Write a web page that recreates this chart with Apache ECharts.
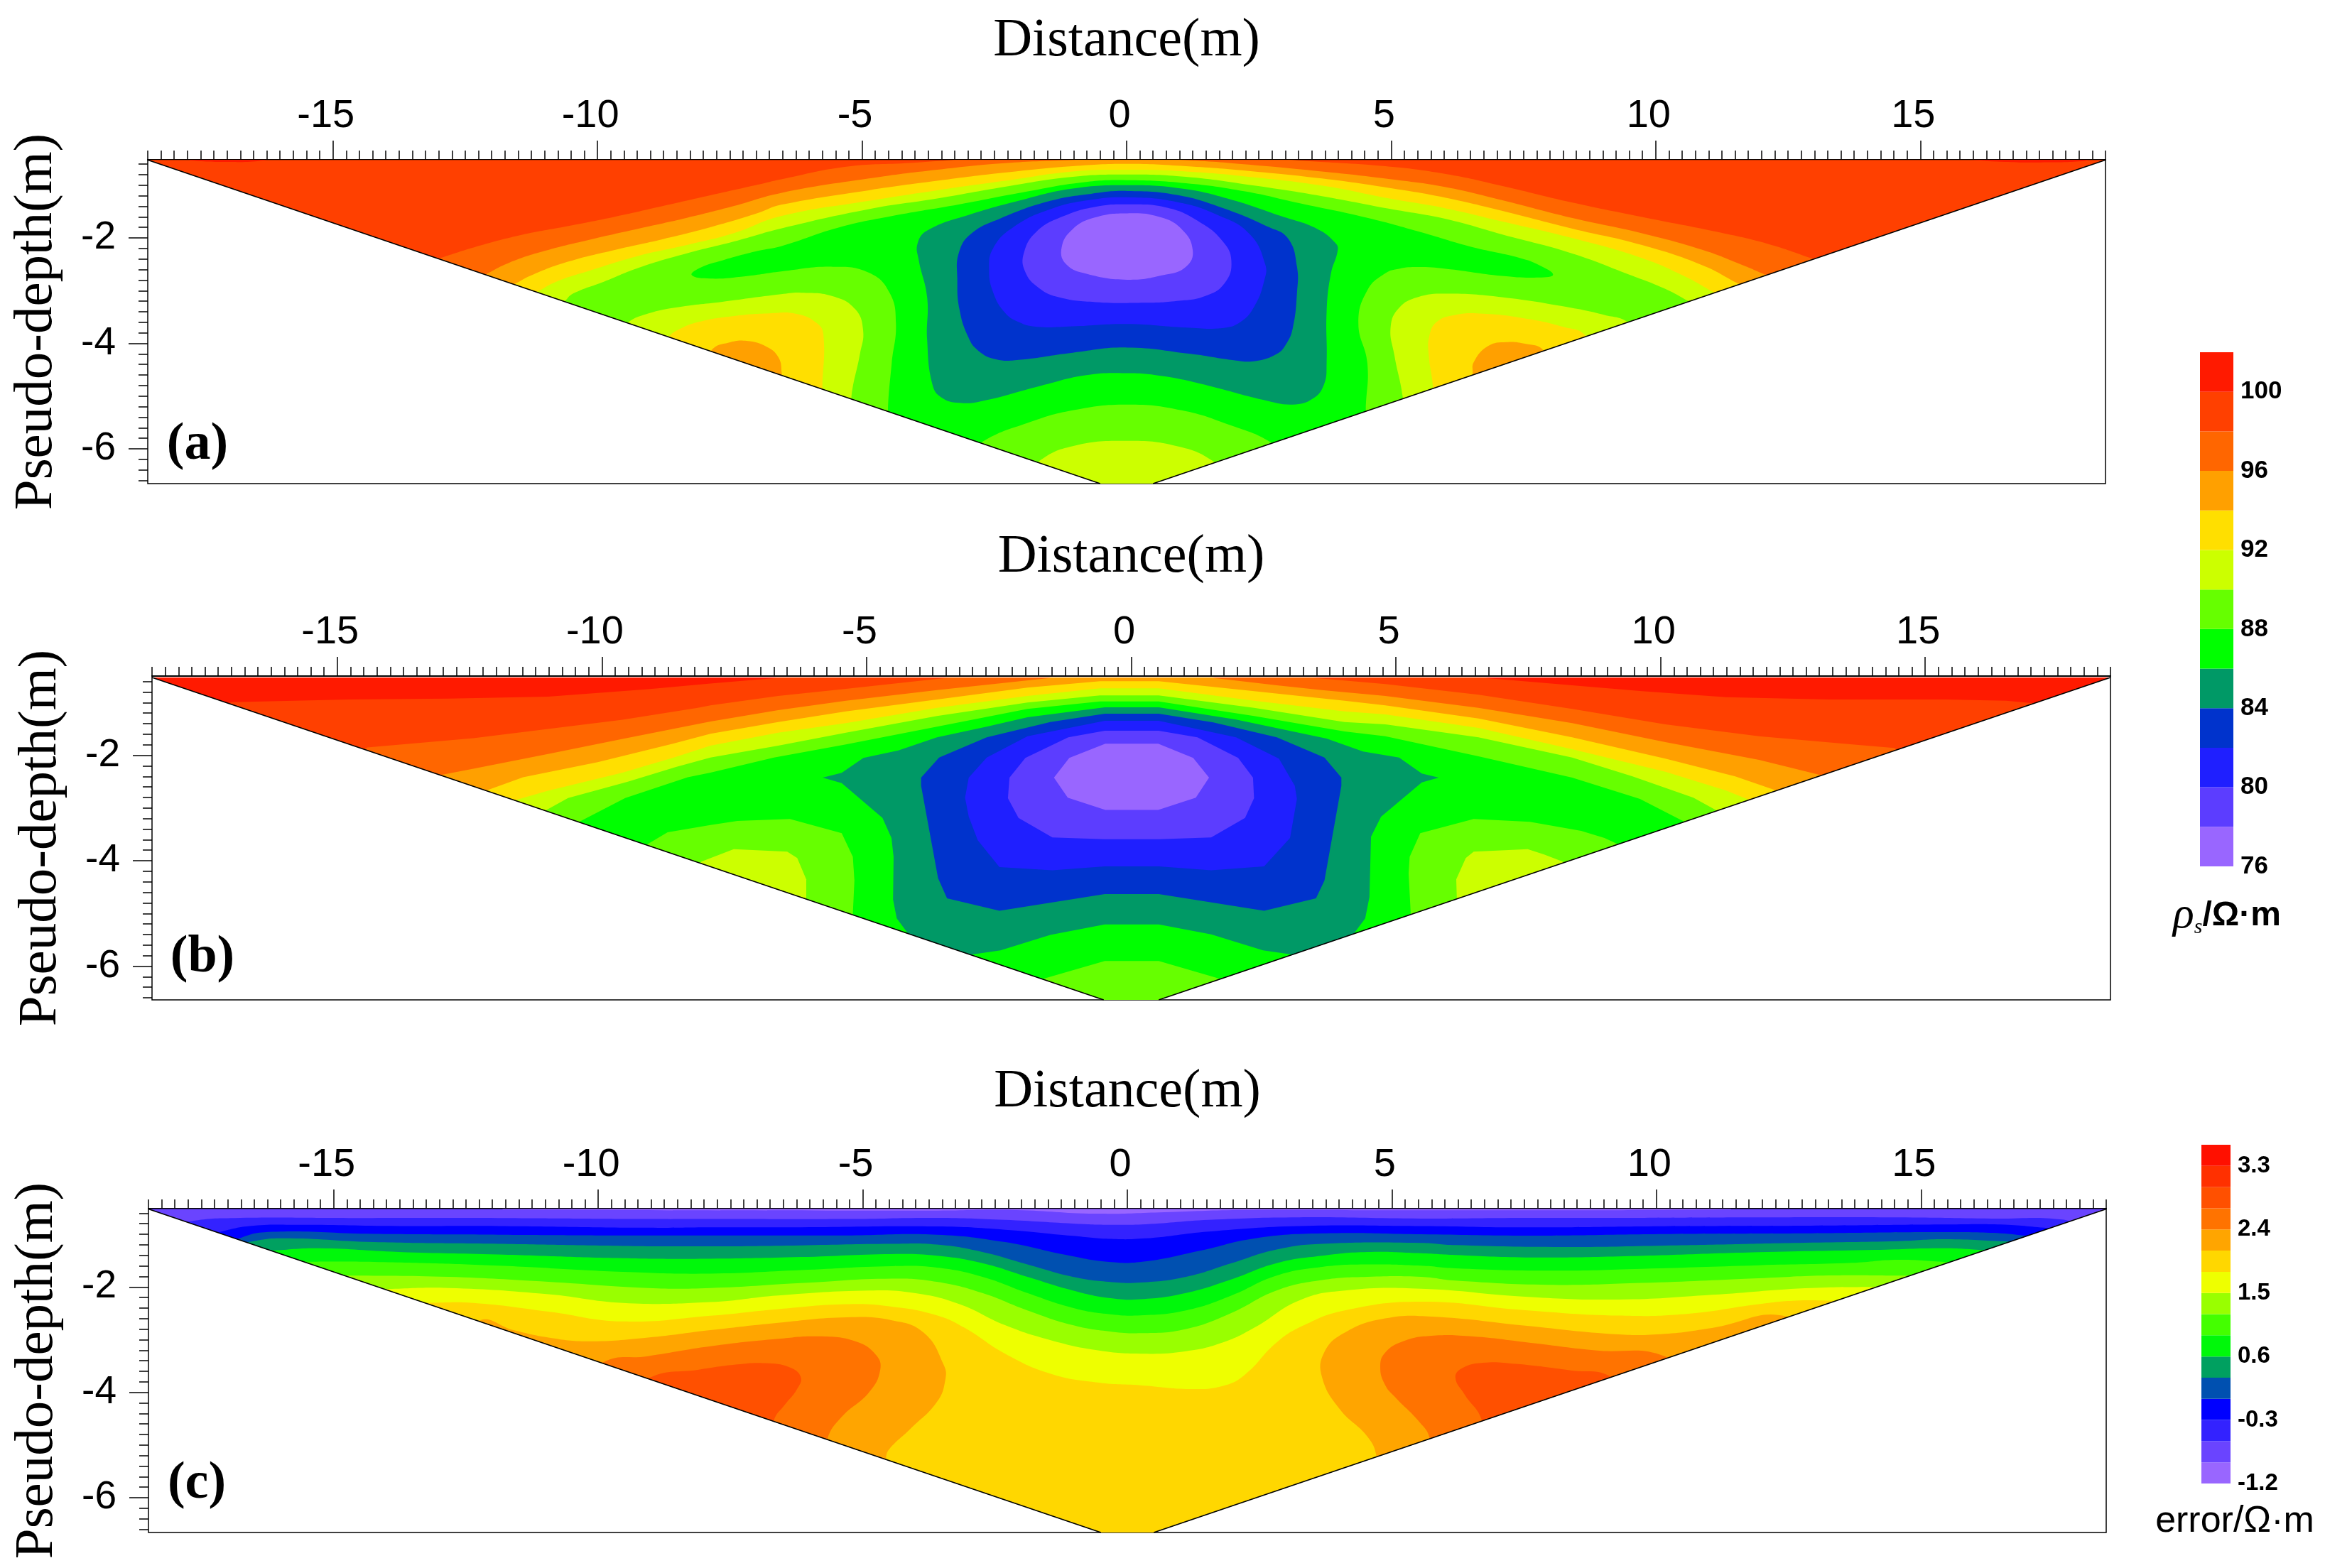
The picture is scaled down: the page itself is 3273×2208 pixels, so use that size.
<!DOCTYPE html>
<html><head><meta charset="utf-8">
<style>html,body{margin:0;padding:0;background:#fff}#c{width:3273px;height:2208px}</style>
<script src="https://cdn.jsdelivr.net/npm/echarts@6/dist/echarts.min.js"></script>
</head><body><div id="c"></div>
<script>
// ---- axis values ----
const majorX = [-15,-10,-5,0,5,10,15];
const minorX = []; for (let k=-74;k<=74;k++) minorX.push(k*0.25);
const majorY = [-2,-4,-6];
const minorY = []; for (let k=3;k<=33;k++) minorY.push(-k*0.2);
// ---- legends ----
const rhoLevels = [76,78,80,82,84,86,88,90,92,94,96,98,100,102];
const rhoColors = ['#9966ff','#5c3dff','#1f1fff','#0033cc','#009966','#00ff00','#66ff00','#ccff00','#ffdf00','#ffa000','#ff6600','#ff4000','#ff1a00'];
const rhoTicks = [76,80,84,88,92,96,100];
const errLevels = [-1.2,-0.9,-0.6,-0.3,0,0.3,0.6,0.9,1.2,1.5,1.8,2.1,2.4,2.7,3.0,3.3,3.6];
const errColors = ['#9966ff','#6a44ff','#3322ff','#0000ff','#0050b0','#00a060','#00f80a','#44ff00','#99ff00','#eeff00','#ffd700','#ffa500','#ff7300','#ff5000','#ff3000','#ff1000'];
const errTicks = [-1.2,-0.3,0.6,1.5,2.4,3.3];
// ---- data outline (pseudo-section wedge) ----
const wedgeA = [[-18.5,-0.52],[18.5,-0.52],[0.5,-6.66],[-0.5,-6.66]];
const wedgeB = [[-18.5,-0.525],[18.5,-0.525],[0.52,-6.64],[-0.52,-6.64]];
const wedgeC = [[-18.5,-0.52],[18.5,-0.52],[0.5,-6.66],[-0.5,-6.66]];

// ---- panel (a) iso-lines, x in m, pseudo-depth in m ----
const a100L = [[-17.7,-0.5],[-17.7,-0.53],[-16.9,-0.56],[-16.4,-0.54],[-16.2,-0.5]];
const a100R = [[15.9,-0.5],[16.6,-0.56],[17.4,-0.565],[18.1,-0.54],[18.2,-0.5]];
const a98 = [[-12.97,-2.381],[-12.34,-2.18],[-11.45,-1.946],[-10.55,-1.775],[-9.66,-1.596],[-8.76,-1.394],[-7.87,-1.192],[-6.97,-0.99],[-6.53,-0.887],[-5.3,-0.649],[-4.18,-0.582],[-3.33,-0.524],[-2.4,-0.46],[0,-0.42],[2.4,-0.46],[3.26,-0.53],[4.89,-0.64],[6.03,-0.788],[7.09,-1.013],[8.41,-1.327],[9.82,-1.619],[11.06,-1.866],[12.12,-2.113],[12.96,-2.391]];
const a96 = [[-12.12,-2.696],[-11.67,-2.471],[-11,-2.247],[-10.1,-2.022],[-9.21,-1.82],[-8.31,-1.618],[-7.42,-1.394],[-6.53,-1.147],[-4.87,-0.873],[-3.58,-0.707],[-2.3,-0.582],[-1.1,-0.524],[0,-0.493],[1.12,-0.524],[2.41,-0.618],[3.69,-0.739],[4.95,-0.88],[6.03,-1.035],[7.09,-1.282],[8.41,-1.619],[9.74,-1.911],[10.88,-2.225],[11.59,-2.494],[12.07,-2.696]];
const a94 = [[-11.57,-2.875],[-11.22,-2.696],[-10.55,-2.449],[-9.66,-2.224],[-8.76,-2.022],[-7.87,-1.798],[-6.97,-1.529],[-6.53,-1.371],[-4.87,-1.096],[-3.58,-0.917],[-2.3,-0.761],[-1.02,-0.64],[0,-0.596],[1.12,-0.64],[2.41,-0.739],[3.69,-0.873],[4.95,-1.05],[6.03,-1.237],[7.09,-1.484],[8.41,-1.821],[9.74,-2.135],[10.88,-2.517],[11.55,-2.863]];
const a92 = [[-11.12,-3.01],[-10.78,-2.83],[-10.1,-2.606],[-9.21,-2.336],[-8.31,-2.135],[-7.42,-1.91],[-6.53,-1.587],[-4.87,-1.297],[-3.58,-1.096],[-2.3,-0.917],[-1.02,-0.739],[0,-0.707],[1.12,-0.739],[2.41,-0.85],[3.69,-1.007],[4.95,-1.25],[6.03,-1.439],[7.09,-1.686],[8.41,-2.0],[9.74,-2.382],[10.53,-2.719],[11.1,-3.033]];
const a90 = [[-10.62,-3.203],[-10.46,-3.055],[-9.88,-2.83],[-9.21,-2.561],[-8.31,-2.292],[-7.42,-2.067],[-6.53,-1.82],[-4.87,-1.453],[-3.58,-1.252],[-2.3,-1.029],[-1.02,-0.841],[0,-0.797],[1.12,-0.841],[2.41,-1.007],[3.69,-1.208],[4.95,-1.445],[6.03,-1.641],[7.09,-1.933],[8.41,-2.292],[9.5,-2.696],[10.18,-2.966],[10.62,-3.2]];
const a88 = [[-8.22,-2.705],[-8.05,-2.561],[-7.64,-2.426],[-6.97,-2.247],[-6.53,-2.157],[-5.47,-1.81],[-4.44,-1.587],[-3.16,-1.364],[-1.87,-1.118],[-0.85,-0.949],[0,-0.904],[1.12,-0.962],[2.24,-1.118],[3.26,-1.341],[4.55,-1.62],[5.59,-1.9],[6.47,-2.158],[7.44,-2.382],[7.8,-2.517],[8.06,-2.696],[7.8,-2.75],[7.09,-2.719],[6.03,-2.584],[5.5,-2.553],[5.15,-2.584],[4.89,-2.67],[4.55,-2.994],[4.38,-3.62],[4.55,-4.378],[4.52,-5.249],[4.5,-6.2],[4.5,-9],[-4.5,-9],[-4.5,-6.2],[-4.51,-5.27],[-4.44,-4.378],[-4.36,-3.62],[-4.48,-3.039],[-4.87,-2.659],[-5.55,-2.547],[-6.53,-2.637],[-7.2,-2.727],[-7.87,-2.772]];
const a86 = [[0.01,-1],[1.04,-1.065],[1.98,-1.275],[2.92,-1.587],[3.61,-1.833],[3.95,-2.1],[3.99,-2.235],[3.86,-2.681],[3.78,-3.396],[3.78,-4.378],[3.73,-4.78],[3.52,-5.048],[3.14,-5.16],[2.58,-5.07],[1.55,-4.803],[0.7,-4.624],[0.01,-4.566],[-0.76,-4.602],[-1.62,-4.803],[-2.73,-5.093],[-3.16,-5.129],[-3.5,-5.026],[-3.67,-4.78],[-3.77,-3.932],[-3.77,-3.128],[-3.93,-2.413],[-3.95,-2.1],[-3.76,-1.855],[-2.99,-1.565],[-1.96,-1.275],[-1.02,-1.065]];
const a84 = [[0.01,-1.109],[0.95,-1.185],[1.81,-1.431],[2.67,-1.788],[3.05,-2.011],[3.22,-2.547],[3.22,-3.039],[3.14,-3.709],[3.01,-4.021],[2.84,-4.2],[2.45,-4.334],[2.07,-4.325],[1.21,-4.2],[0.01,-4.079],[-1.02,-4.177],[-2.04,-4.312],[-2.47,-4.303],[-2.81,-4.133],[-2.99,-3.887],[-3.16,-3.351],[-3.2,-2.771],[-3.17,-2.279],[-2.94,-1.922],[-2.39,-1.632],[-1.44,-1.297],[-0.67,-1.163]];
const a82 = [[0.01,-1.23],[0.95,-1.319],[1.72,-1.565],[2.32,-1.922],[2.62,-2.503],[2.6,-2.815],[2.41,-3.307],[2.15,-3.597],[1.81,-3.709],[1.12,-3.7],[0.01,-3.633],[-1.02,-3.677],[-1.7,-3.686],[-2.04,-3.597],[-2.3,-3.418],[-2.52,-3.039],[-2.6,-2.592],[-2.52,-2.19],[-2.13,-1.788],[-1.44,-1.453],[-0.67,-1.275]];
const a80 = [[0.01,-1.364],[0.78,-1.431],[1.38,-1.699],[1.81,-2.056],[1.98,-2.436],[1.85,-2.86],[1.47,-3.106],[0.95,-3.195],[0.35,-3.23],[-0.59,-3.217],[-1.27,-3.128],[-1.66,-2.949],[-1.92,-2.637],[-1.94,-2.28],[-1.7,-1.878],[-1.19,-1.587],[-0.59,-1.409]];
const a78 = [[0.01,-1.534],[0.61,-1.6],[1.04,-1.833],[1.25,-2.235],[1.12,-2.547],[0.7,-2.704],[0.01,-2.793],[-0.76,-2.681],[-1.14,-2.503],[-1.23,-2.19],[-1.02,-1.833],[-0.59,-1.61]];
const aApex90 = [[-3.2,-6.3],[-2.73,-5.87],[-1.87,-5.51],[-1.02,-5.27],[0.01,-5.16],[1.04,-5.27],[1.98,-5.56],[2.71,-5.87],[3.2,-6.3]];
const aApex92 = [[-2.2,-6.8],[-1.66,-6.24],[-1.02,-5.95],[0.01,-5.85],[0.95,-5.95],[1.64,-6.24],[2.2,-6.8]];
const aLobeL90 = [[-10.2,-4.2],[-9.43,-3.607],[-9.12,-3.459],[-8.54,-3.324],[-7.64,-3.212],[-6.53,-3.068],[-6.15,-3.039],[-5.55,-3.106],[-5.13,-3.351],[-4.98,-3.753],[-5.04,-4.2],[-5.2,-5.0],[-5.25,-5.8]];
const aLobeL92 = [[-9.2,-4.6],[-8.65,-3.876],[-8.49,-3.751],[-8.09,-3.594],[-7.42,-3.481],[-6.75,-3.43],[-6.24,-3.44],[-5.85,-3.619],[-5.73,-3.843],[-5.75,-4.78],[-5.8,-5.4]];
const aLobeL94 = [[-8.2,-4.7],[-7.84,-4.12],[-7.52,-3.985],[-7.18,-3.954],[-6.8,-4.066],[-6.58,-4.267],[-6.52,-4.557],[-6.5,-5.2]];
const aLobeR90 = [[5.27,-5.8],[5.22,-5.03],[5.06,-4.223],[4.99,-3.684],[5.15,-3.325],[5.5,-3.123],[6.03,-3.056],[7.09,-3.123],[8.41,-3.325],[9.03,-3.46],[9.47,-3.594],[10.2,-4.2]];
const aLobeR92 = [[5.8,-5.4],[5.79,-4.829],[5.71,-4.223],[5.72,-3.864],[5.86,-3.594],[6.21,-3.46],[6.74,-3.437],[7.53,-3.527],[8.24,-3.684],[8.68,-3.864],[9.2,-4.8]];
const aLobeR94 = [[6.5,-5.2],[6.54,-4.573],[6.56,-4.358],[6.83,-4.052],[7.18,-3.976],[7.53,-4.007],[7.87,-4.124],[8.2,-4.7]];

// ---- panel (b) iso-lines ----
const b100 = [[-17.6,-1.2],[-17,-0.993],[-14.78,-0.942],[-12.9,-0.924],[-11.02,-0.886],[-9.13,-0.747],[-7.95,-0.64],[-6.75,-0.537],[-6.2,-0.4],[6.2,-0.4],[6.74,-0.537],[8.33,-0.672],[9.65,-0.784],[11.24,-0.897],[13.18,-0.942],[15.38,-0.942],[16.53,-0.964],[17.01,-1.009],[17.6,-1.2]];
const b98 = [[-15,-2.2],[-14.43,-1.851],[-12.43,-1.675],[-9.61,-1.327],[-8.19,-1.1],[-7.95,-1.054],[-6.67,-0.874],[-5.39,-0.74],[-3.54,-0.537],[-3,-0.45],[3,-0.45],[3.52,-0.537],[4.8,-0.65],[6.56,-0.852],[8.33,-1.121],[10.09,-1.413],[11.86,-1.638],[13.62,-1.795],[14.41,-1.862],[15,-2.2]];
const b96 = [[-12.97,-2.361],[-12.43,-2.255],[-11.02,-1.976],[-9.61,-1.69],[-7.95,-1.359],[-6.67,-1.144],[-5.39,-0.964],[-3.67,-0.762],[-1.57,-0.537],[-1.2,-0.45],[1.2,-0.45],[1.59,-0.537],[2.75,-0.672],[3.6,-0.762],[4.8,-0.874],[6.56,-1.099],[8.33,-1.39],[10.09,-1.75],[11.86,-2.087],[13,-2.37]];
const b94 = [[-12.13,-2.649],[-11.49,-2.417],[-10.08,-2.13],[-8.66,-1.78],[-7.95,-1.593],[-6.67,-1.368],[-5.39,-1.166],[-3.67,-0.942],[-1.96,-0.717],[-0.59,-0.596],[0.52,-0.596],[2.32,-0.784],[4.03,-0.964],[4.8,-1.054],[6.56,-1.301],[8.33,-1.66],[10.09,-2.064],[11.41,-2.401],[12.15,-2.657]];
const b92 = [[-11.58,-2.834],[-11.02,-2.672],[-9.61,-2.33],[-8.6,-2.03],[-7.95,-1.817],[-6.67,-1.57],[-5.39,-1.39],[-3.67,-1.099],[-1.96,-0.874],[-0.59,-0.731],[0.52,-0.731],[2.32,-0.964],[4.03,-1.166],[4.8,-1.224],[6.56,-1.48],[8.33,-1.884],[10.09,-2.311],[11.24,-2.67],[11.63,-2.827]];
const b90 = [[-11.04,-3.034],[-10.64,-2.811],[-9.51,-2.5],[-8.6,-2.22],[-7.95,-2.042],[-6.67,-1.817],[-5.39,-1.57],[-3.67,-1.256],[-1.96,-1],[-0.59,-0.865],[0.52,-0.865],[2.32,-1.099],[4.03,-1.368],[4.8,-1.413],[6.56,-1.66],[8.33,-2.042],[9.47,-2.401],[10.62,-2.805],[11.04,-3.038]];
const b88 = [[-10.41,-3.252],[-9.56,-2.811],[-8.38,-2.417],[-7.95,-2.33],[-6.75,-2.042],[-5.39,-1.795],[-3.67,-1.458],[-1.96,-1.121],[-0.59,-0.977],[0.52,-0.977],[2.32,-1.256],[4.03,-1.548],[4.8,-1.638],[6.56,-2.019],[8.33,-2.423],[9.61,-2.827],[10.44,-3.254]];
const b86 = [[-5.83,-2.423],[-5.47,-2.334],[-5.06,-2.051],[-4.4,-1.907],[-3.67,-1.66],[-2.73,-1.458],[-1.96,-1.278],[-0.5,-1.09],[0.52,-1.09],[1.98,-1.323],[3.69,-1.682],[4.38,-1.929],[5.06,-2.042],[5.49,-2.347],[5.81,-2.423],[5.49,-2.513],[4.72,-3.164],[4.53,-3.546],[4.5,-4.691],[4.42,-5.095],[4.22,-5.364],[4,-6],[3.05,-5.782],[2.49,-5.701],[1.51,-5.396],[0.52,-5.207],[-0.5,-5.207],[-1.53,-5.409],[-2.47,-5.701],[-3,-5.777],[-4,-6],[-4.23,-5.364],[-4.43,-5.095],[-4.5,-4.736],[-4.49,-3.927],[-4.53,-3.568],[-4.7,-3.187],[-5.47,-2.527]];
const b84 = [[-0.5,-1.211],[0.52,-1.211],[1.55,-1.377],[2.75,-1.66],[3.65,-2.042],[3.97,-2.423],[3.97,-2.58],[3.65,-4.377],[3.49,-4.713],[2.51,-4.951],[0.52,-4.632],[-0.5,-4.632],[-2.49,-4.951],[-3.48,-4.713],[-3.65,-4.331],[-3.97,-2.58],[-3.97,-2.423],[-3.63,-2.042],[-2.73,-1.66],[-1.53,-1.368]];
const b82 = [[-0.5,-1.346],[0.52,-1.346],[1.98,-1.66],[2.79,-2.064],[3.09,-2.58],[3.13,-2.827],[3,-3.568],[2.51,-4.107],[1.51,-4.183],[0.52,-4.107],[-0.5,-4.107],[-1.49,-4.183],[-2.49,-4.12],[-2.9,-3.613],[-3.07,-3.164],[-3.14,-2.805],[-3.07,-2.423],[-2.73,-2.042],[-1.96,-1.638]];
const b80 = [[-0.5,-1.534],[0.52,-1.534],[1.25,-1.66],[2.02,-2.05],[2.3,-2.423],[2.32,-2.814],[2.15,-3.187],[1.51,-3.56],[0.52,-3.591],[-0.5,-3.591],[-1.49,-3.56],[-2.13,-3.187],[-2.33,-2.814],[-2.3,-2.423],[-2,-2.05],[-1.19,-1.66]];
const b78 = [[-0.49,-1.781],[0.51,-1.781],[1.17,-2.05],[1.47,-2.423],[1.22,-2.805],[0.51,-3.038],[-0.49,-3.038],[-1.2,-2.805],[-1.46,-2.423],[-1.17,-2.05]];
const bApex90 = [[-2.4,-6.9],[-1.66,-6.24],[-0.5,-5.903],[0.52,-5.903],[1.65,-6.231],[2.4,-6.9]];
const bLobeL90 = [[-9.9,-4.5],[-9.15,-3.692],[-8.76,-3.46],[-7.95,-3.321],[-7.44,-3.245],[-6.45,-3.209],[-5.47,-3.478],[-5.26,-3.927],[-5.23,-4.377],[-5.26,-5.005],[-5.3,-5.7]];
const bLobeL92 = [[-8.6,-4.8],[-8.12,-4.017],[-7.51,-3.779],[-6.5,-3.829],[-6.31,-3.95],[-6.14,-4.354],[-6.14,-4.713],[-6.14,-5.4]];
const bLobeR90 = [[5.3,-5.7],[5.28,-4.996],[5.24,-4.242],[5.26,-3.927],[5.46,-3.478],[6.47,-3.209],[7.53,-3.263],[8.5,-3.434],[8.94,-3.568],[9.18,-3.68],[9.9,-4.5]];
const bLobeR92 = [[6.15,-5.4],[6.15,-4.691],[6.14,-4.354],[6.32,-3.95],[6.47,-3.829],[7.49,-3.779],[7.8,-3.882],[8.15,-4.017],[8.6,-4.8]];

// ---- panel (c) iso-lines ----
const cTop = [[-11.8,-0.5],[-11.8,-0.53],[-3.6,-0.55],[-2.1,-0.54],[-0.6,-0.61],[0.7,-0.58],[2.1,-0.54],[5.6,-0.545],[11.4,-0.53],[11.4,-0.5]];
const c09 = [[-18.2,-0.9],[-17.68,-0.749],[-16.88,-0.692],[-14.71,-0.692],[-11.89,-0.692],[-9.06,-0.711],[-7.88,-0.711],[-5.31,-0.711],[-3.6,-0.688],[-2.31,-0.726],[-1.03,-0.796],[-0.35,-0.82],[0.34,-0.81],[1.54,-0.726],[3.25,-0.678],[5.55,-0.702],[7.52,-0.69],[9.28,-0.69],[11.93,-0.68],[14.57,-0.68],[16.34,-0.703],[17.66,-0.721],[18.1,-0.9]];
const c06 = [[-17.25,-0.975],[-16.59,-0.843],[-15.65,-0.82],[-13.77,-0.843],[-11.89,-0.843],[-9.06,-0.876],[-7.88,-0.867],[-6.17,-0.867],[-3.6,-0.852],[-2.31,-0.914],[-1.03,-1.031],[-0.35,-1.088],[0.34,-1.078],[1.54,-0.947],[3.25,-0.843],[5.55,-0.843],[7.52,-0.869],[10.16,-0.847],[12.81,-0.838],[15.46,-0.815],[16.51,-0.815],[17.4,-0.883]];
const c03 = [[-16.92,-1.116],[-16.31,-0.961],[-14.24,-0.994],[-11.89,-1.008],[-9.53,-1.022],[-7.88,-1.022],[-5.31,-1.022],[-3.6,-1.008],[-2.31,-1.149],[-1.2,-1.385],[-0.35,-1.526],[0.34,-1.516],[1.37,-1.314],[2.4,-1.079],[3.68,-0.984],[5.55,-1],[7.52,-1.026],[10.16,-0.995],[12.81,-0.982],[15.46,-0.959],[16.51,-0.981],[17,-1.03]];
const c00 = [[-16.7,-1.16],[-16.03,-1.078],[-14.24,-1.149],[-11.89,-1.182],[-9.53,-1.22],[-7.88,-1.229],[-6.17,-1.21],[-4.45,-1.182],[-3.6,-1.196],[-2.74,-1.337],[-1.89,-1.573],[-1.03,-1.808],[-0.35,-1.902],[0.25,-1.916],[1.11,-1.808],[1.97,-1.549],[2.82,-1.29],[3.68,-1.182],[5.55,-1.163],[6.2,-1.206],[8.22,-1.242],[10.16,-1.215],[12.81,-1.161],[14.57,-1.13],[15.46,-1.094],[16.69,-1.14]];
const c30 = [[-16.17,-1.31],[-15.28,-1.267],[-13.77,-1.337],[-11.89,-1.384],[-9.53,-1.455],[-7.88,-1.464],[-6.17,-1.432],[-4.45,-1.375],[-3.6,-1.408],[-2.74,-1.549],[-1.89,-1.808],[-1.03,-2.067],[-0.35,-2.208],[0.25,-2.232],[1.11,-2.114],[1.97,-1.855],[2.82,-1.549],[3.68,-1.408],[4.54,-1.337],[5.55,-1.361],[6.2,-1.395],[7.52,-1.439],[9.28,-1.421],[11.93,-1.341],[14.13,-1.296],[15.46,-1.264],[16.21,-1.3]];
const c60 = [[-15.56,-1.52],[-14.24,-1.526],[-11.89,-1.596],[-9.53,-1.714],[-7.88,-1.747],[-6.17,-1.681],[-4.45,-1.606],[-3.6,-1.634],[-2.74,-1.808],[-1.89,-2.114],[-1.03,-2.396],[-0.35,-2.514],[0.25,-2.538],[1.11,-2.444],[1.97,-2.161],[2.82,-1.785],[3.68,-1.62],[4.54,-1.573],[5.55,-1.596],[6.2,-1.646],[7.96,-1.691],[9.72,-1.655],[11.93,-1.588],[13.69,-1.543],[14.57,-1.484],[15.54,-1.53]];
const c90 = [[-14.8,-1.78],[-12.83,-1.808],[-10.94,-1.902],[-9.06,-2.02],[-7.88,-2.02],[-6.17,-1.926],[-4.45,-1.841],[-3.6,-1.902],[-2.74,-2.114],[-1.89,-2.444],[-1.03,-2.726],[-0.35,-2.844],[0.25,-2.877],[1.11,-2.797],[1.97,-2.491],[2.82,-2.067],[3.68,-1.869],[4.54,-1.808],[5.55,-1.808],[6.2,-1.88],[7.96,-1.96],[9.72,-1.924],[11.93,-1.835],[13.25,-1.781],[14.79,-1.785]];
const c120 = [[-14.05,-2.04],[-12.83,-2.02],[-10.94,-2.138],[-9.53,-2.302],[-7.88,-2.288],[-6.6,-2.161],[-4.88,-2.067],[-4.03,-2.114],[-3.17,-2.326],[-2.31,-2.726],[-1.46,-3.008],[-0.6,-3.197],[0.25,-3.267],[1.11,-3.22],[1.8,-3.056],[2.4,-2.773],[3.25,-2.255],[4.11,-2.067],[5.55,-2.034],[7.52,-2.185],[9.28,-2.239],[11.05,-2.149],[12.81,-2.023],[14.18,-1.995]];
const c150 = [[-13.25,-2.3],[-12.36,-2.302],[-10.94,-2.467],[-9.53,-2.655],[-7.88,-2.547],[-6.6,-2.42],[-5.31,-2.326],[-4.45,-2.373],[-3.6,-2.538],[-3.08,-2.773],[-2.31,-3.267],[-1.46,-3.644],[-0.6,-3.809],[0.25,-3.865],[1.2,-3.936],[1.8,-3.879],[2.22,-3.667],[2.82,-3.056],[3.34,-2.726],[4.11,-2.444],[5.55,-2.279],[7.52,-2.441],[9.28,-2.544],[10.6,-2.508],[11.93,-2.328],[12.63,-2.261],[13.38,-2.261]];
const cLobeL18 = [[-13,-3.4],[-12.26,-2.641],[-11.6,-2.82],[-10.94,-2.961],[-10.19,-3.032],[-9.06,-2.961],[-7.88,-2.82],[-6.6,-2.679],[-5.31,-2.575],[-4.45,-2.632],[-3.85,-2.867],[-3.47,-3.479],[-3.44,-3.761],[-3.6,-4.185],[-4.11,-4.703],[-4.5,-5.08],[-4.56,-5.244],[-4.6,-5.9]];
const cLobeL21 = [[-10.6,-4.1],[-9.91,-3.432],[-9.06,-3.314],[-7.88,-3.126],[-6.6,-2.985],[-5.82,-2.938],[-5.14,-3.032],[-4.75,-3.29],[-4.67,-3.573],[-4.88,-3.997],[-5.4,-4.468],[-5.67,-4.891],[-5.75,-5.6]];
const cLobeL24 = [[-9.8,-4.3],[-9.01,-3.714],[-8.12,-3.573],[-7.37,-3.47],[-6.85,-3.446],[-6.38,-3.526],[-6.17,-3.715],[-6.25,-3.95],[-6.47,-4.232],[-6.68,-4.538],[-6.75,-5.2]];
const cLobeR18 = [[4.75,-5.9],[4.71,-5.22],[4.54,-4.844],[4.02,-4.326],[3.68,-3.715],[3.72,-3.244],[4.11,-2.867],[4.87,-2.598],[5.75,-2.562],[7.52,-2.733],[9.28,-2.899],[10.16,-2.89],[11.05,-2.777],[12.46,-2.562],[13.2,-3.3]];
const cLobeR21 = [[5.8,-5.6],[5.71,-4.856],[5.53,-4.573],[5.05,-4.08],[4.87,-3.855],[4.78,-3.526],[4.87,-3.249],[5.23,-3.024],[5.75,-2.926],[6.46,-2.934],[7.52,-3.047],[8.84,-3.204],[10.16,-3.316],[10.9,-4]];
const cLobeR24 = [[6.75,-5.2],[6.7,-4.529],[6.37,-4.035],[6.2,-3.72],[6.33,-3.541],[6.72,-3.438],[7.34,-3.46],[8.4,-3.586],[9.11,-3.689],[9.8,-4.3]];

// ---- building the option ----
const rc = v => rhoColors[rhoLevels.indexOf(v)];
const ec = v => errColors[errLevels.indexOf(v)];
// continue an iso-line past the wedge edge along its end direction, then close it far below the section
const beyond = (a,b) => { const dx=a[0]-b[0], dy=a[1]-b[1], k=2/Math.max(Math.abs(dx),0.01); return [a[0]+dx*k,a[1]+dy*k]; };
const below = line => {
  const s=beyond(line[0],line[1]), e=beyond(line[line.length-1],line[line.length-2]);
  return [s].concat(line,[e,[e[0],-9],[s[0],-9]]);
};
const topBox = [[-19,0],[19,0],[19,-9],[-19,-9]];

const bandsA = [
 [topBox,rc(98)],[a100L,rc(100)],[a100R,rc(100)],
 [below(a98),rc(96)],[below(a96),rc(94)],[below(a94),rc(92)],[below(a92),rc(90)],[below(a90),rc(88)],
 [a88,rc(86)],[below(aApex90),rc(88)],[below(aApex92),rc(90)],
 [aLobeL90,rc(90)],[aLobeL92,rc(92)],[aLobeL94,rc(94)],
 [aLobeR90,rc(90)],[aLobeR92,rc(92)],[aLobeR94,rc(94)],
 [a86,rc(84)],[a84,rc(82)],[a82,rc(80)],[a80,rc(78)],[a78,rc(76)]
];
const bandsB = [
 [topBox,rc(100)],[below(b100),rc(98)],[below(b98),rc(96)],[below(b96),rc(94)],[below(b94),rc(92)],
 [below(b92),rc(90)],[below(b90),rc(88)],[below(b88),rc(86)],
 [below(bApex90),rc(88)],
 [bLobeL90,rc(88)],[bLobeL92,rc(90)],[bLobeR90,rc(88)],[bLobeR92,rc(90)],
 [b86,rc(84)],[b84,rc(82)],[b82,rc(80)],[b80,rc(78)],[b78,rc(76)]
];
const bandsC = [
 [topBox,ec(-0.9)],[below(c09),ec(-0.6)],[below(c06),ec(-0.3)],[below(c03),ec(0)],[below(c00),ec(0.3)],
 [below(c30),ec(0.6)],[below(c60),ec(0.9)],[below(c90),ec(1.2)],[below(c120),ec(1.5)],[below(c150),ec(1.8)],
 [cTop,ec(-1.2)],
 [cLobeL18,ec(2.1)],[cLobeL21,ec(2.4)],[cLobeL24,ec(2.7)],
 [cLobeR18,ec(2.1)],[cLobeR21,ec(2.4)],[cLobeR24,ec(2.7)]
];

const panels = [
 {grid:[208,225,2756,456],yMax:-0.518,yMin:-6.66,bands:bandsA,wedge:wedgeA,smooth:0.45,nameGap:129},
 {grid:[214,952,2757,456],yMax:-0.497,yMin:-6.64,bands:bandsB,wedge:wedgeB,smooth:0,nameGap:129},
 {grid:[209,1702,2756,456],yMax:-0.514,yMin:-6.66,bands:bandsC,wedge:wedgeC,smooth:0.45,nameGap:126}
];
const INK='#000';
const grids=[],xAxes=[],yAxes=[],series=[];
panels.forEach(p=>{
  const gi=grids.length;
  grids.push({left:p.grid[0],top:p.grid[1],width:p.grid[2],height:p.grid[3],outerBoundsMode:'none',show:true,backgroundColor:'#fff',borderColor:INK,borderWidth:1.5});
  const xi=xAxes.length, yi=yAxes.length;
  const xBase={type:'value',gridIndex:gi,position:'top',min:-18.5,max:18.5,splitLine:{show:false},axisLine:{show:true,onZero:false,lineStyle:{color:INK,width:1.5}}};
  const yBase={type:'value',gridIndex:gi,position:'left',min:p.yMin,max:p.yMax,splitLine:{show:false},axisLine:{show:false,onZero:false}};
  xAxes.push(Object.assign({},xBase,{
    name:'Distance(m)',nameLocation:'middle',nameGap:p.nameGap,
    nameTextStyle:{fontFamily:'Liberation Serif',fontSize:76,color:INK},
    axisTick:{show:true,length:27,lineStyle:{color:INK,width:1.5},customValues:majorX},
    axisLabel:{show:true,margin:33,padding:[0,20,0,0],fontFamily:'Liberation Sans',fontSize:56,color:INK,customValues:majorX,formatter:v=>String(v)}
  }));
  xAxes.push(Object.assign({},xBase,{
    axisTick:{show:true,length:13,lineStyle:{color:INK,width:1.5},customValues:minorX},
    axisLabel:{show:false}
  }));
  yAxes.push(Object.assign({},yBase,{
    name:'Pseudo-depth(m)',nameLocation:'middle',nameGap:118,
    nameTextStyle:{fontFamily:'Liberation Serif',fontSize:77,color:INK},
    axisTick:{show:true,length:27,lineStyle:{color:INK,width:1.5},customValues:majorY},
    axisLabel:{show:true,margin:45,fontFamily:'Liberation Sans',fontSize:55,color:INK,customValues:majorY,formatter:v=>String(v)}
  }));
  yAxes.push(Object.assign({},yBase,{
    axisTick:{show:true,length:13,lineStyle:{color:INK,width:1.5},customValues:minorY},
    axisLabel:{show:false}
  }));
  series.push({type:'custom',xAxisIndex:xi,yAxisIndex:yi,clip:false,silent:true,z:2,
    data:p.bands.map((b,i)=>[i,-1]),
    renderItem:(params,api)=>{
      const b=p.bands[params.dataIndex];
      return {type:'polygon',
        shape:{points:b[0].map(q=>api.coord(q)),smooth:p.smooth},
        style:{fill:b[1]},
        clipPath:{type:'polygon',shape:{points:p.wedge.map(q=>api.coord(q))}}};
    }});
  series.push({type:'custom',xAxisIndex:xi,yAxisIndex:yi,clip:false,silent:true,z:3,
    data:[[0,-1],[1,-1]],
    renderItem:(params,api)=>{
      const w=p.wedge;
      const seg=params.dataIndex===0?[w[0],w[3]]:[w[1],w[2]];
      return {type:'polyline',shape:{points:seg.map(q=>api.coord(q))},style:{stroke:INK,lineWidth:1.6,fill:null}};
    }});
});
function legend(box,levels,colors,ticks,font,margin,fmt){
  const gi=grids.length, xi=xAxes.length, yi=yAxes.length;
  grids.push({left:box[0],top:box[1],width:box[2],height:box[3],outerBoundsMode:'none'});
  xAxes.push({type:'value',gridIndex:gi,min:0,max:1,show:false});
  yAxes.push({type:'value',gridIndex:gi,position:'right',min:levels[0],max:levels[levels.length-1],
    splitLine:{show:false},axisLine:{show:false,onZero:false},axisTick:{show:false},
    axisLabel:{show:true,margin:margin,fontFamily:'Liberation Sans',fontWeight:'bold',fontSize:font,color:INK,customValues:ticks,formatter:fmt}});
  series.push({type:'custom',xAxisIndex:xi,yAxisIndex:yi,clip:false,silent:true,
    data:colors.map((c,i)=>[0.5,levels[i],levels[i+1]]),
    renderItem:(params,api)=>{
      const a=api.coord([0,api.value(2)]), b=api.coord([1,api.value(1)]);
      return {type:'rect',shape:{x:a[0],y:a[1],width:b[0]-a[0],height:b[1]-a[1]},style:{fill:colors[params.dataIndex]}};
    }});
}
legend([3097,496,47,724],rhoLevels,rhoColors,rhoTicks,35,10,v=>String(v));
legend([3099,1612,41,477],errLevels,errColors,errTicks,33,10,v=>Number(v).toFixed(1));

const tag=(t,cx,cy)=>({type:'text',x:cx,y:cy,style:{text:t,fontFamily:'Liberation Serif',fontWeight:'bold',fontSize:74,fill:INK,textAlign:'center',textVerticalAlign:'middle'}});
const graphic=[
  tag('(a)',278,627),tag('(b)',285,1349),tag('(c)',277,2090),
  {type:'text',x:3135,y:1290,style:{text:'{r|ρ}{s|s}{u|/Ω·m}',textAlign:'center',textVerticalAlign:'middle',fill:INK,
    rich:{r:{fontFamily:'Liberation Serif',fontStyle:'italic',fontSize:62,fill:INK},
          s:{fontFamily:'Liberation Serif',fontStyle:'italic',fontSize:30,fill:INK,verticalAlign:'bottom'},
          u:{fontFamily:'Liberation Sans',fontWeight:'bold',fontSize:48,fill:INK}}}},
  {type:'text',x:3146,y:2143,style:{text:'error/Ω·m',fontFamily:'Liberation Sans',fontSize:52,fill:INK,textAlign:'center',textVerticalAlign:'middle'}}
];
const chart=echarts.init(document.getElementById('c'),null,{renderer:'canvas'});
chart.setOption({animation:false,backgroundColor:'#fff',grid:grids,xAxis:xAxes,yAxis:yAxes,series:series,graphic:graphic});
</script></body></html>
